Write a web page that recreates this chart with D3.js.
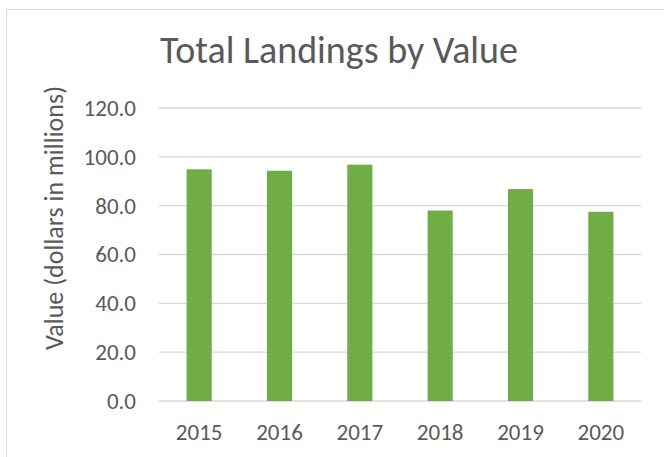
<!DOCTYPE html>
<html>
<head>
<meta charset="utf-8">
<script src="https://cdn.jsdelivr.net/npm/d3@7"></script>
<style>
  body { margin: 0; background: #fff; }
  svg text { font-family: Carlito, Calibri, Lato, sans-serif; fill: #595959; }
</style>
</head>
<body>
<div id="chart"></div>
<script>
const years = ["2015", "2016", "2017", "2018", "2019", "2020"];
const values = [94.9, 94.3, 96.8, 78.0, 86.8, 77.5];
const yTicks = [0, 20, 40, 60, 80, 100, 120];

const W = 664, H = 457;
const margin = { top: 108, right: 23, bottom: 56, left: 159 };
const width = W - margin.left - margin.right;
const height = H - margin.top - margin.bottom;

const svg = d3.select("#chart").append("svg")
  .attr("width", W)
  .attr("height", H);

// chart area border
svg.append("rect")
  .attr("x", 6.5).attr("y", 9.5)
  .attr("width", W + 20).attr("height", H + 20)
  .attr("fill", "#fff")
  .attr("stroke", "#d9d9d9");

const g = svg.append("g")
  .attr("transform", `translate(${margin.left},${margin.top})`);

const x = d3.scaleBand()
  .domain(years)
  .range([0, width])
  .paddingInner(0.687)
  .paddingOuter(0.3435);

const y = d3.scaleLinear()
  .domain([0, 120])
  .range([height, 0]);

// gridlines
g.append("g")
  .selectAll("line")
  .data(yTicks)
  .enter()
  .append("line")
  .attr("x1", 0).attr("x2", width)
  .attr("y1", d => y(d)).attr("y2", d => y(d))
  .attr("stroke", "#d9d9d9")
  .attr("stroke-width", 1.3);

// bars
g.append("g")
  .selectAll("rect")
  .data(values)
  .enter()
  .append("rect")
  .attr("x", (d, i) => x(years[i]))
  .attr("y", d => y(d))
  .attr("width", x.bandwidth())
  .attr("height", d => height - y(d))
  .attr("fill", "#70ad47");

// y axis labels
const yAxis = g.append("g")
  .call(d3.axisLeft(y).tickValues(yTicks).tickFormat(d3.format(".1f")).tickSize(0).tickPadding(23));
yAxis.select(".domain").remove();
yAxis.selectAll("text").style("font-size", "23px").attr("fill", "#595959");

// x axis labels
const xAxis = g.append("g")
  .attr("transform", `translate(0,${height})`)
  .call(d3.axisBottom(x).tickSize(0).tickPadding(23));
xAxis.select(".domain").remove();
xAxis.selectAll("text").style("font-size", "23px").attr("fill", "#595959");

// title
svg.append("text")
  .attr("x", 339)
  .attr("y", 63)
  .attr("text-anchor", "middle")
  .style("font-size", "38px")
  .text("Total Landings by Value");

// y axis title
svg.append("text")
  .attr("transform", `translate(63,218) rotate(-90)`)
  .attr("text-anchor", "middle")
  .style("font-size", "26px")
  .text("Value (dollars in millions)");
</script>
</body>
</html>
